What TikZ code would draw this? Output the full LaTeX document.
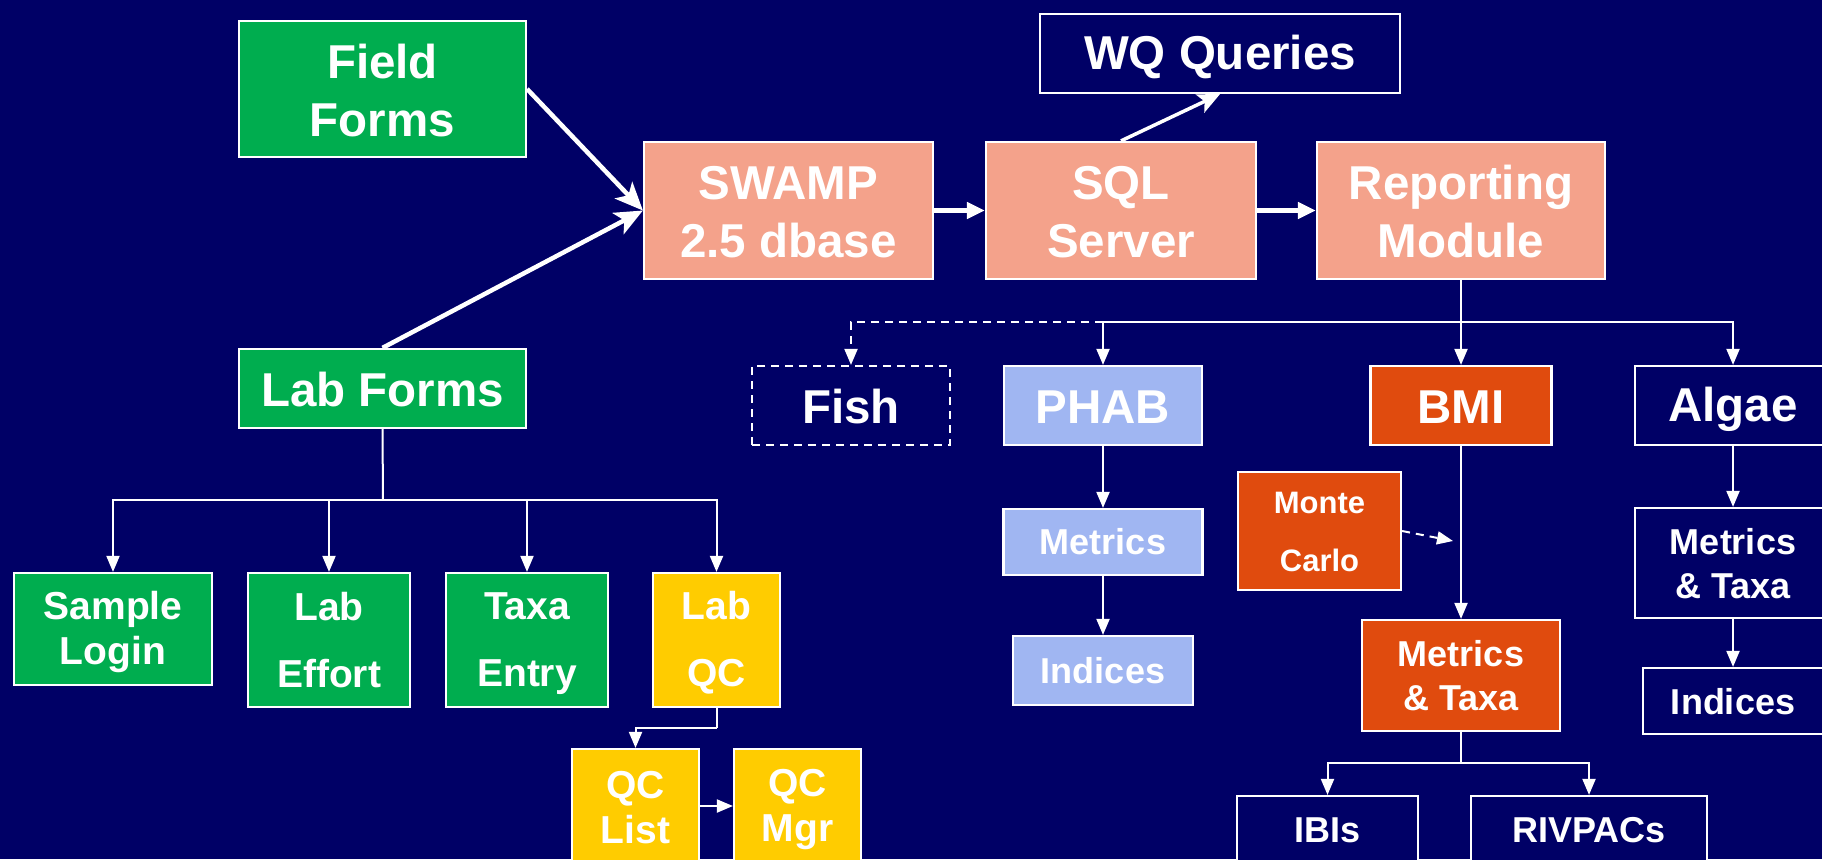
\documentclass[tikz,border=0pt]{standalone}
\usepackage{fontspec}
\setmainfont{Liberation Sans}
\usetikzlibrary{arrows.meta}
\definecolor{bgnavy}{RGB}{0,0,102}
\definecolor{boxgreen}{RGB}{0,173,79}
\definecolor{salmon}{RGB}{244,162,139}
\definecolor{lightblue}{RGB}{160,182,242}
\definecolor{bmiorange}{RGB}{224,75,14}
\definecolor{qcyellow}{RGB}{255,204,0}
\newcommand{\sst}{\rule[-0.12em]{0pt}{1.0em}}
\tikzset{
  box/.style={draw=white, line width=2.2pt, text=white, align=center, inner sep=0pt, font=\bfseries},
  big/.style={font=\fontsize{47.5}{58}\selectfont\bfseries},
  mid/.style={font=\fontsize{39}{45}\selectfont\bfseries},
  small/.style={font=\fontsize{36}{44}\selectfont\bfseries},
  tiny/.style={font=\fontsize{31}{58}\selectfont\bfseries},
  thin/.style={draw=white, line width=2pt, -{Triangle[length=16pt,width=13pt]}},
  thinline/.style={draw=white, line width=2pt},
  thickdiag/.style={draw=white, line width=4.5pt, -{Stealth[length=28pt,width=24pt,inset=7pt]}},
  thickh/.style={draw=white, line width=4.5pt, -{Triangle[length=18pt,width=16pt]}},
  dashstyle/.style={dash pattern=on 8pt off 6pt}
}
\begin{document}
\begin{tikzpicture}[x=1pt,y=-1pt]
\fill[bgnavy] (0,0) rectangle (1822,859);
\clip (0,0) rectangle (1822,859);
% top row
\node[box, big, fill=boxgreen, minimum width=287pt, minimum height=136pt] (ff) at (382.5,89) {\sst Field\\\sst Forms};
\node[box, big, fill=boxgreen, minimum width=287pt, minimum height=79pt] (lf) at (382.5,388.5) {\sst Lab Forms};
\node[box, big, fill=salmon, minimum width=289pt, minimum height=137pt] (swamp) at (788.5,210.5) {\sst SWAMP\\\sst 2.5 dbase};
\node[box, big, fill=salmon, minimum width=270pt, minimum height=137pt] (sql) at (1121,210.5) {\sst SQL\\\sst Server};
\node[box, big, fill=salmon, minimum width=288pt, minimum height=137pt] (rep) at (1461,210.5) {\sst Reporting\\\sst Module};
\node[box, big, fill=bgnavy, minimum width=360pt, minimum height=79pt] (wq) at (1220,53.5) {\sst WQ Queries};
% second row
\node[box, big, fill=bgnavy, dashstyle, minimum width=198pt, minimum height=79pt] (fish) at (851,405.5) {\sst Fish};
\node[box, big, fill=lightblue, minimum width=198pt, minimum height=79pt] (phab) at (1103,405.5) {\sst PHAB};
\node[box, big, fill=bmiorange, minimum width=181pt, minimum height=79pt] (bmi) at (1461,405.5) {\sst BMI};
\node[box, big, fill=bgnavy, minimum width=196pt, minimum height=79pt] (algae) at (1733,405.5) {\sst Algae};
% PHAB column
\node[box, small, fill=lightblue, minimum width=199pt, minimum height=66pt] (phabm) at (1103,542) {Metrics};
\node[box, small, fill=lightblue, minimum width=180pt, minimum height=69pt] (phabi) at (1103,670.5) {Indices};
% BMI column
\node[box, tiny, fill=bmiorange, minimum width=163pt, minimum height=118pt] (mc) at (1319.5,531) {\sst Monte\\\sst Carlo};
\node[box, small, fill=bmiorange, minimum width=198pt, minimum height=111pt] (bmimt) at (1461,675.5) {Metrics\\\&~Taxa};
\node[box, small, fill=bgnavy, minimum width=181pt, minimum height=68pt] (ibi) at (1327.5,830) {IBIs};
\node[box, small, fill=bgnavy, minimum width=236pt, minimum height=68pt] (riv) at (1589,830) {RIVPACs};
% Algae column
\node[box, small, fill=bgnavy, minimum width=196pt, minimum height=110pt] (algmt) at (1733,563) {\sst Metrics\\\sst\&~Taxa};
\node[box, small, fill=bgnavy, minimum width=180pt, minimum height=66pt] (algi) at (1733,701) {\sst Indices};
% Lab forms children
\node[box, mid, fill=boxgreen, minimum width=198pt, minimum height=112pt] (sl) at (113,629) {\sst Sample\\\sst Login};
\node[box, mid, fill=boxgreen, minimum width=162pt, minimum height=134pt] (le) at (329,640) {Lab\\[22pt]Effort};
\node[box, mid, fill=boxgreen, minimum width=162pt, minimum height=134pt] (te) at (527,640) {\sst Taxa\\[22pt]\sst Entry};
\node[box, mid, fill=qcyellow, minimum width=127pt, minimum height=134pt] (lqc) at (716.5,640) {\sst Lab\\[22pt]\sst QC};
\node[box, mid, fill=qcyellow, minimum width=127pt, minimum height=114pt] (qcl) at (635.5,806) {\sst QC\\\sst List};
\node[box, mid, fill=qcyellow, minimum width=127pt, minimum height=114pt] (qcm) at (797.5,806) {\sst QC\\\sst Mgr};
% coordinates
\coordinate (rb) at (1461,322);
\coordinate (lb) at (383,500);
\coordinate (qb) at (716.5,728);
\coordinate (bb) at (1461,763);
\coordinate (mcend) at (1453,541);
% thick arrows
\draw[thickdiag] (ff.east) -- (swamp.west);
\draw[thickdiag] (lf.north) -- (swamp.west);
\draw[thickh] (swamp.east) -- (sql.west);
\draw[thickh] (sql.east) -- (rep.west);
\draw[draw=white, line width=3.5pt, -{Stealth[length=22pt,width=20pt,inset=5pt]}] (sql.north) -- (wq.south);
% reporting branches
\draw[thinline] (rep.south) -- (rb);
\draw[thin] (rb) -- (bmi.north);
\draw[thin] (rb) -| (phab.north);
\draw[thin] (rb) -| (algae.north);
\draw[thin, dashstyle] (phab.north |- rb) -| (fish.north);
\draw[thin] (phab) -- (phabm);
\draw[thin] (phabm) -- (phabi);
\draw[thin] (bmi) -- (bmimt);
\draw[thin, dashstyle] (mc.east) -- (mcend);
\draw[thinline] (bmimt.south) -- (bb);
\draw[thin] (bb) -| (ibi.north);
\draw[thin] (bb) -| (riv.north);
\draw[thin] (algae) -- (algmt);
\draw[thin] (algmt) -- (algi);
% lab forms branches
\draw[thinline] (lf.south) -- (lb);
\draw[thin] (lb) -| (sl.north);
\draw[thin] (lb) -| (le.north);
\draw[thin] (lb) -| (te.north);
\draw[thin] (lb) -| (lqc.north);
\draw[thinline] (lqc.south) -- (qb);
\draw[thin] (qb) -| (qcl.north);
\draw[thin] (qcl.east) -- (qcm.west);
\end{tikzpicture}
\end{document}
